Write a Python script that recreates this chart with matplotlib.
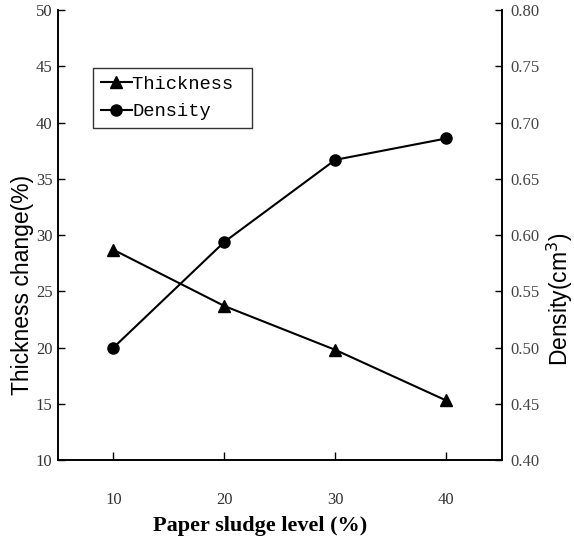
import matplotlib.pyplot as plt

level = [10, 20, 30, 40]
thickness = [28.7, 23.7, 19.8, 15.3]
density = [0.500, 0.594, 0.667, 0.686]

yticks_left = [10, 15, 20, 25, 30, 35, 40, 45, 50]
yticks_right = [0.40, 0.45, 0.50, 0.55, 0.60, 0.65, 0.70, 0.75, 0.80]

serif = "Liberation Serif"
sans = "Liberation Sans"

fig = plt.figure(figsize=(5.74, 5.4), dpi=100)
ax = fig.add_axes([0.101, 0.148, 0.773, 0.833])
ax2 = ax.twinx()

l1, = ax.plot(level, thickness, color="black", lw=1.5, marker="^", ms=9,
              label="Thickness ")
l2, = ax2.plot(level, density, color="black", lw=1.5, marker="o", ms=8,
               label="Density")

ax.set_xlim(5, 45)
ax.set_ylim(10, 50)
ax2.set_ylim(0.40, 0.80)

ax.set_xticks(level)
ax.set_xticklabels([str(v) for v in level], fontfamily=serif, fontsize=12,
                   color="#333333")
ax.set_yticks(yticks_left)
ax.set_yticklabels([str(v) for v in yticks_left], fontfamily=serif,
                   fontsize=12, color="#333333")
ax2.set_yticks(yticks_right)
ax2.set_yticklabels(["%.2f" % v for v in yticks_right], fontfamily=serif,
                    fontsize=12, color="#444444")

ax.tick_params(axis="x", direction="in", length=6, width=1, pad=23)
ax.tick_params(axis="y", direction="in", length=5, width=1, pad=4)
ax2.tick_params(axis="y", direction="in", length=5, width=1, pad=6)

for a in (ax, ax2):
    a.spines["top"].set_visible(False)
    for s in ("left", "right", "bottom"):
        a.spines[s].set_linewidth(1.2)

ax.set_xlabel("Paper sludge level (%)", fontfamily=serif, fontsize=16,
              fontweight="bold")
ax.xaxis.set_label_coords(0.456, -0.125)
ax.set_ylabel("Thickness change(%)", fontfamily=sans, fontsize=16.5)
ax.yaxis.set_label_coords(-0.054, 0.39)
ax2.set_ylabel("Density(cm$^3$)", fontfamily=sans, fontsize=16.5)
ax2.yaxis.set_label_coords(1.098, 0.357)

leg = ax.legend(handles=[l1, l2], loc="upper left", bbox_to_anchor=(0.079, 0.871),
                prop={"family": "Liberation Mono", "size": 13.5},
                frameon=True, fancybox=False, edgecolor="black",
                handlelength=1.7, handletextpad=0.0, borderpad=0.4,
                labelspacing=0.55, borderaxespad=0)
leg.get_frame().set_linewidth(1.0)

fig.savefig("out.png", dpi=100)
